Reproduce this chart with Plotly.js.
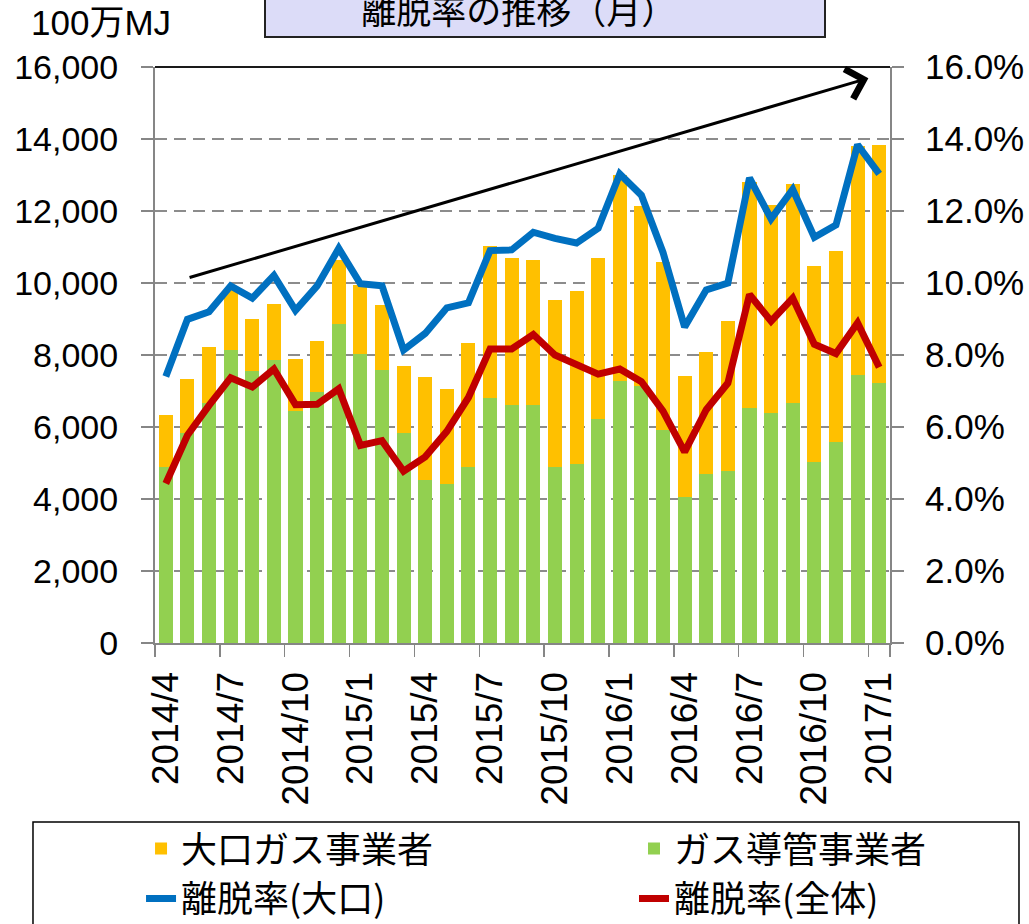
<!DOCTYPE html>
<html>
<head>
<meta charset="utf-8">
<script src="https://cdn.plot.ly/plotly-3.0.1.min.js"></script>
<style>html,body{margin:0;padding:0;background:#fff;}#chart{width:1029px;height:924px;}</style>
</head>
<body>
<div id="chart"></div>
<script>
const months = ['2014/4','2014/5','2014/6','2014/7','2014/8','2014/9','2014/10','2014/11','2014/12',
  '2015/1','2015/2','2015/3','2015/4','2015/5','2015/6','2015/7','2015/8','2015/9','2015/10','2015/11','2015/12',
  '2016/1','2016/2','2016/3','2016/4','2016/5','2016/6','2016/7','2016/8','2016/9','2016/10','2016/11','2016/12',
  '2017/1'];
const tickLabels = ['2014/4','2014/7','2014/10','2015/1','2015/4','2015/7','2015/10','2016/1','2016/4','2016/7','2016/10','2017/1'];

// ガス導管事業者 (100万MJ)
const pipelineVol = [4880,5840,6670,8150,7550,7870,6440,6980,8850,8020,7590,5830,4540,4410,4880,6810,6620,6600,4900,4960,6230,7290,7130,5910,4060,4690,4770,6520,6390,6680,5040,5570,7450,7210];
// 大口ガス事業者 (100万MJ)
const largeVol = [1440,1500,1560,1650,1460,1560,1460,1410,1800,1930,1790,1870,2840,2650,3450,4220,4080,4040,4620,4830,4460,5710,5010,4670,3360,3400,4170,6290,5790,6080,5440,5330,6350,6610];
// 離脱率(大口) %
const rateLarge = [7.40,8.99,9.20,9.92,9.58,10.21,9.24,9.92,10.96,9.98,9.92,8.14,8.60,9.31,9.45,10.90,10.92,11.41,11.24,11.11,11.52,13.03,12.44,10.85,8.78,9.81,10.00,12.92,11.78,12.60,11.27,11.61,13.84,13.03];
// 離脱率(全体) %
const rateAll = [4.43,5.77,6.60,7.37,7.11,7.61,6.62,6.63,7.06,5.49,5.62,4.77,5.17,5.88,6.82,8.17,8.17,8.57,8.00,7.72,7.47,7.61,7.26,6.44,5.31,6.48,7.22,9.68,8.94,9.58,8.30,8.04,8.89,7.66];

const latin = '"Liberation Sans", Arial, "Noto Sans CJK JP", sans-serif';
const cjk = '"Noto Sans CJK JP", "Liberation Sans", sans-serif';
const axisGray = '#868686';

const traces = [
  {type:'bar', name:'ガス導管事業者', x:months, y:pipelineVol, marker:{color:'#92D050'}, legend:'legend2', legendrank:1},
  {type:'bar', name:'大口ガス事業者', x:months, y:largeVol, marker:{color:'#FFC000'}, legend:'legend', legendrank:1},
  {type:'scatter', mode:'lines', name:'離脱率(大口)', x:months, y:rateLarge, yaxis:'y2', line:{color:'#0070C0', width:7}, legend:'legend', legendrank:2},
  {type:'scatter', mode:'lines', name:'離脱率(全体)', x:months, y:rateAll, yaxis:'y2', line:{color:'#C00000', width:7}, legend:'legend2', legendrank:2}
];

const legendBase = {
  orientation:'v', xref:'paper', yref:'paper', xanchor:'left', y:-0.305, yanchor:'top',
  font:{size:36, family:cjk}, traceorder:'normal', bgcolor:'rgba(0,0,0,0)', borderwidth:0
};

const layout = {
  width:1029, height:924,
  margin:{l:155, r:139, t:67, b:281, autoexpand:false},
  paper_bgcolor:'#ffffff', plot_bgcolor:'#ffffff',
  font:{family:latin, color:'#000000'},
  barmode:'stack', bargap:0.35,
  showlegend:true,
  xaxis:{
    type:'category', range:[-0.5, 33.5], tickvals:tickLabels, ticktext:tickLabels,
    tickangle:-90, tickfont:{size:37, family:latin}, tickson:'boundaries',
    ticks:'outside', ticklen:12, tickwidth:1.5, tickcolor:axisGray,
    showline:true, linecolor:axisGray, linewidth:2, showgrid:false, zeroline:false,
    ticklabelstandoff:12, automargin:false
  },
  yaxis:{
    range:[0,16000], dtick:2000, tickformat:',d', tickfont:{size:34},
    ticks:'outside', ticklen:12, tickwidth:1.5, tickcolor:axisGray,
    showline:true, linecolor:axisGray, linewidth:2,
    showgrid:true, gridcolor:'#8c8c8c', griddash:'12px,7px', gridwidth:1.5, zeroline:false,
    ticklabelstandoff:16, automargin:false
  },
  yaxis2:{
    overlaying:'y', side:'right', range:[0,16], dtick:2, tickformat:'.1f', ticksuffix:'%',
    tickfont:{size:35}, ticks:'outside', ticklen:12, tickwidth:1.5, tickcolor:axisGray,
    showline:true, linecolor:axisGray, linewidth:2, showgrid:false, zeroline:false,
    ticklabelstandoff:14, automargin:false
  },
  legend:Object.assign({}, legendBase, {x:-0.019}),
  legend2:Object.assign({}, legendBase, {x:0.6517}),
  shapes:[
    {type:'line', xref:'paper', yref:'paper', x0:0, x1:1, y0:1, y1:1, line:{color:'#1a1a1a', width:2}},
    {type:'rect', xref:'paper', yref:'paper', x0:-0.166, x1:1.1755, y0:-0.3108, y1:-0.62, line:{color:'#000000', width:1.5}, fillcolor:'rgba(0,0,0,0)'}
  ],
  annotations:[
    {xref:'paper', yref:'paper', x:0.5306, y:1, xanchor:'center', yanchor:'bottom', yshift:29,
     text:'離脱率の推移（月）　　', showarrow:false, font:{size:35, family:cjk, color:'#000'},
     bgcolor:'#DCDCF8', bordercolor:'#222222', borderwidth:2, borderpad:1, width:556, height:54},
    {xref:'paper', yref:'paper', x:0, y:1, xanchor:'right', yanchor:'bottom', xshift:18, yshift:23,
     text:'100万MJ', showarrow:false, font:{size:35, family:latin, color:'#000'}},
    {xref:'x', yref:'y', axref:'x', ayref:'y', x:32.5, y:15690, ax:1.03, ay:10140,
     text:'', showarrow:true, arrowhead:4, arrowsize:2, arrowwidth:3, arrowcolor:'#000000'}
  ]
};

Plotly.newPlot('chart', traces, layout, {displayModeBar:false, staticPlot:true});
</script>
</body>
</html>
